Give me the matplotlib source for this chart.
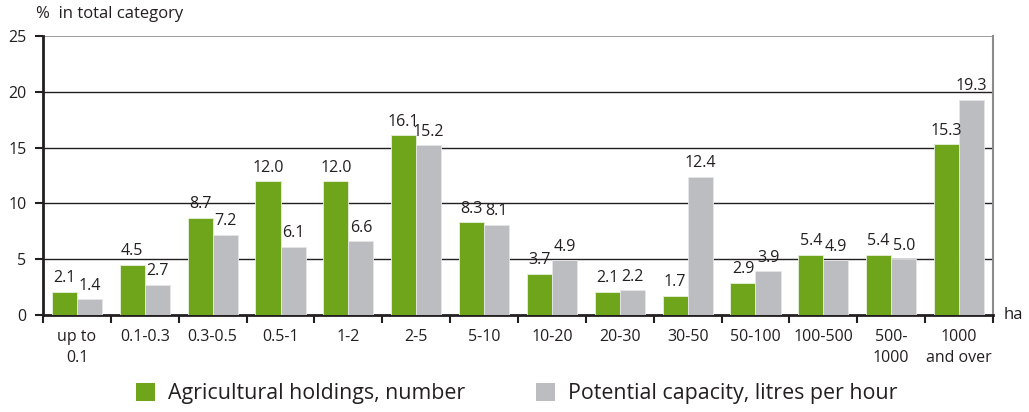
import numpy as np
import matplotlib.pyplot as plt
from matplotlib.patches import Patch

plt.rcParams['font.family'] = ['Open Sans', 'DejaVu Sans']

categories = ["up to\n0.1", "0.1-0.3", "0.3-0.5", "0.5-1", "1-2", "2-5", "5-10",
              "10-20", "20-30", "30-50", "50-100", "100-500", "500-\n1000", "1000\nand over"]
holdings = [2.1, 4.5, 8.7, 12.0, 12.0, 16.1, 8.3, 3.7, 2.1, 1.7, 2.9, 5.4, 5.4, 15.3]
capacity = [1.4, 2.7, 7.2, 6.1, 6.6, 15.2, 8.1, 4.9, 2.2, 12.4, 3.9, 4.9, 5.0, 19.3]
yticks = [0, 5, 10, 15, 20, 25]

green = "#6ea51a"
grey = "#bcbdc0"
txt = "#231f20"

fig = plt.figure(figsize=(10.29, 4.12), dpi=100)
ax = fig.add_axes([0.0418, 0.2354, 0.9232, 0.6772])

x = np.arange(len(categories))
w = 0.37
ax.bar(x - w / 2, holdings, w, color=green, edgecolor="#e8f0dc", linewidth=0.6, zorder=3)
ax.bar(x + w / 2, capacity, w, color=grey, edgecolor="#e6e6e8", linewidth=0.6, zorder=3)

for xi, v in zip(x, holdings):
    ax.text(xi - w / 2, v + 0.5, f"{v:.1f}", ha="center", va="bottom", fontsize=11.5, color=txt)
for xi, v in zip(x, capacity):
    ax.text(xi + w / 2, v + 0.5, f"{v:.1f}", ha="center", va="bottom", fontsize=11.5, color=txt)

ax.set_xlim(-0.5, len(categories) - 0.5)
ax.set_ylim(0, 25)
ax.set_yticks(yticks)
ax.set_yticklabels([str(t) for t in yticks], fontsize=11.5, color=txt)
for t in yticks[1:-1]:
    ax.axhline(t, color="#231f20", linewidth=1.0, zorder=1)
ax.axhline(25, color="#8c8c8c", linewidth=1.2, zorder=1)

# category ticks between groups
ax.set_xticks(np.arange(len(categories) + 1) - 0.5)
ax.set_xticklabels([])
ax.set_xticks(x, minor=True)
ax.set_xticklabels(categories, minor=True, fontsize=11.5, color=txt, linespacing=1.45)
ax.tick_params(axis="x", which="minor", length=0, pad=10)
ax.tick_params(axis="x", which="major", length=6, width=1.5, color=txt, direction="out")
ax.tick_params(axis="y", length=6, width=1.5, color=txt, direction="out", pad=6)
for lbl in ax.get_xticklabels(minor=True):
    lbl.set_verticalalignment("top")

ax.spines["top"].set_visible(False)
ax.spines["right"].set_color("#8c8c8c")
ax.spines["right"].set_linewidth(1.5)
ax.spines["left"].set_linewidth(2)
ax.spines["left"].set_color(txt)
ax.spines["bottom"].set_linewidth(2)
ax.spines["bottom"].set_color(txt)

fig.text(0.035, 0.965, "%  in total category", fontsize=12, color=txt, va="center", ha="left")
fig.text(0.975, 0.235, "ha", fontsize=12, color=txt, va="center", ha="left")

handles = [Patch(facecolor=green, label="Agricultural holdings, number"),
           Patch(facecolor=grey, label="Potential capacity, litres per hour")]
fig.legend(handles=handles, loc="center", bbox_to_anchor=(0.502, 0.045), ncol=2, frameon=False,
           fontsize=15.4, handlelength=0.9, handleheight=0.9, columnspacing=3.3, handletextpad=0.6,
           labelcolor=txt)

fig.savefig("out.png", dpi=100)
